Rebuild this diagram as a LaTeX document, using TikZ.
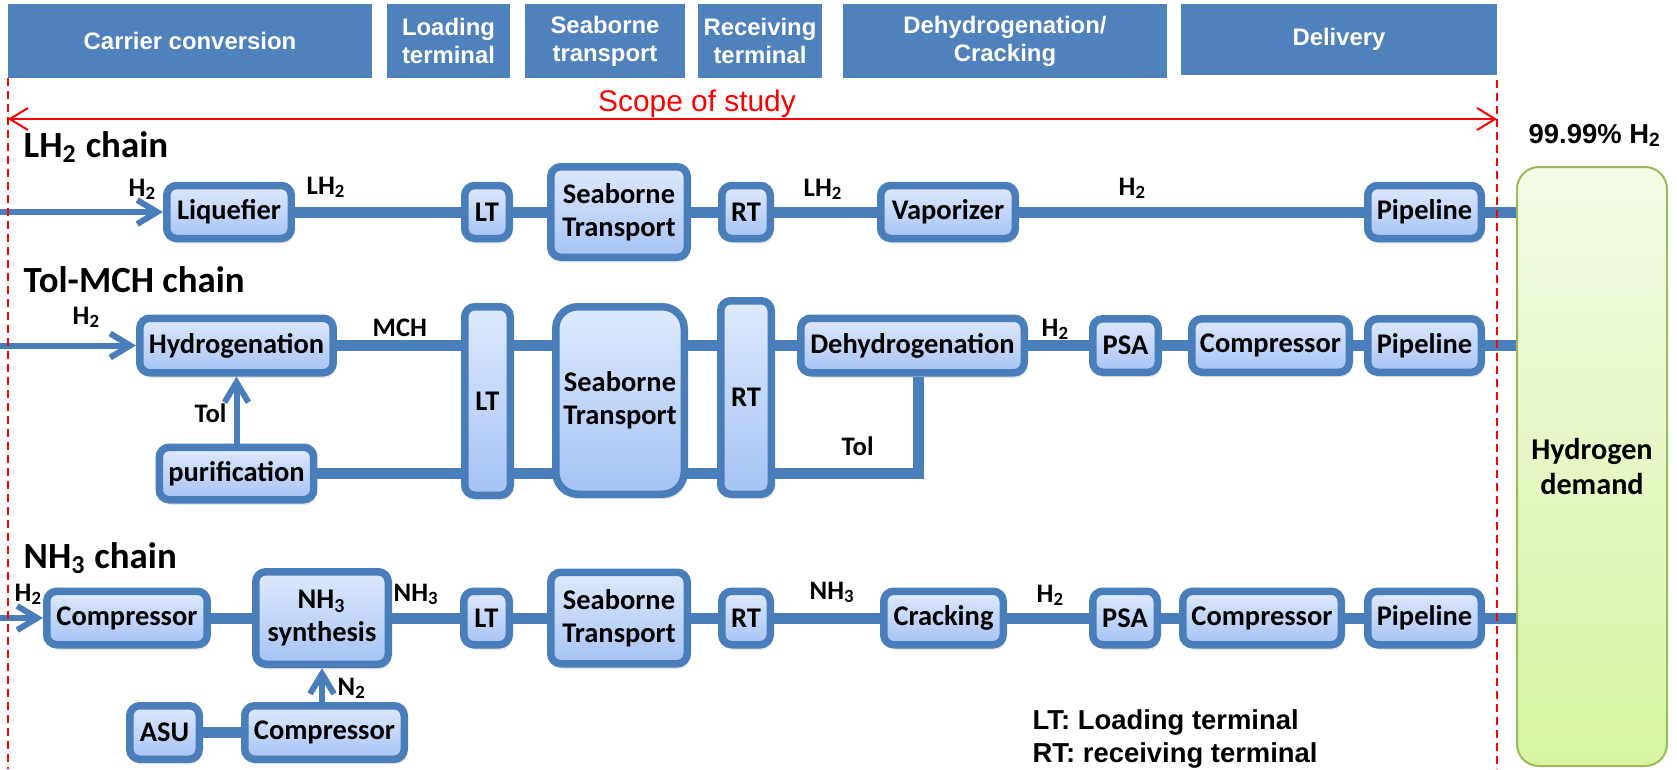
\documentclass[tikz,border=0pt]{standalone}
\usepackage{fontspec}
\newfontfamily\boxfont{Carlito}
\newfontfamily\headfont{Liberation Sans}
\usepackage{tikz}
\usetikzlibrary{arrows.meta,positioning,backgrounds,shadows}
\definecolor{hdrblue}{HTML}{4F81BD}
\definecolor{lineblue}{HTML}{4A7EBB}
\definecolor{boxtop}{HTML}{DEE9FC}
\definecolor{boxbot}{HTML}{A6C3F5}
\definecolor{greentop}{HTML}{F3FBE8}
\definecolor{greenbot}{HTML}{D7F5A0}
\definecolor{greenline}{HTML}{9BBB59}

\begin{document}
\begin{tikzpicture}[x=0.1mm,y=-0.1mm,
hdrbox/.style={rectangle,fill=hdrblue,text=white,inner sep=0pt,minimum height=7.4mm,align=center,font=\headfont\bfseries\fontsize{6.8}{8}\selectfont},
procbox/.style 2 args={rectangle,rounded corners=1mm,draw=lineblue,line width=0.75mm,top color=boxtop,bottom color=boxbot,inner sep=0pt,minimum width=#1,minimum height=#2,align=center,font=\boxfont\bfseries\fontsize{8.1}{9.4}\selectfont,drop shadow={opacity=0.2,shadow xshift=0.2mm,shadow yshift=-0.5mm}},
demandbox/.style={rectangle,rounded corners=2.2mm,draw=greenline,line width=0.2mm,top color=greentop,bottom color=greenbot,minimum width=15mm,minimum height=59.9mm,align=center,font=\boxfont\bfseries\fontsize{8.6}{9.8}\selectfont},
pipe/.style={draw=lineblue,line width=1.1mm},
feed/.style={draw=lineblue,line width=0.6mm,-{Straight Barb[length=2mm,width=2.4mm]}},
lbl/.style={anchor=base west,inner sep=0pt,font=\boxfont\bfseries\fontsize{7.6}{8}\selectfont},
chaintitle/.style={anchor=base west,inner sep=0pt,font=\boxfont\bfseries\fontsize{10.5}{12}\selectfont},
legend/.style={anchor=base west,inner sep=0pt,font=\headfont\bfseries\fontsize{7.8}{9}\selectfont},
studyline/.style={draw=red,line width=0.15mm,dash pattern=on 0.8mm off 0.5mm},
studyarrow/.style={draw=red,line width=0.2mm,{Straight Barb[length=1.8mm,width=2.2mm]}-{Straight Barb[length=1.8mm,width=2.2mm]}},
]
\useasboundingbox (0,0) rectangle (1677,769);

% stage headers
\node [hdrbox,minimum width=36.4mm] (HCC) at (190,41) {Carrier conversion};
\node [hdrbox,minimum width=12.3mm] (HLT) at (448.5,41) {Loading\\terminal};
\node [hdrbox,minimum width=16mm] (HST) at (605,41) {Seaborne\\transport};
\node [hdrbox,minimum width=12.4mm] (HRT) at (760,41) {Receiving\\terminal};
\node [hdrbox,minimum width=32.4mm] (HDC) at (1005,41) {Dehydrogenation/\\Cracking};
\node [hdrbox,minimum width=31.6mm,minimum height=7.1mm] (HDL) at (1339,39.5) {Delivery};

% scope of study
\coordinate (DashLtop) at (8,78);
\coordinate (DashLbot) at (8,769);
\coordinate (DashRtop) at (1497,80);
\coordinate (DashRbot) at (1497,769);
\coordinate (ScopeL) at (8,119);
\coordinate (ScopeR) at (1497,119);
\node [anchor=base,inner sep=0pt,text=red,font=\headfont\fontsize{8.5}{10}\selectfont] (Scope) at (697,111) {Scope of study};

% demand
\node [demandbox] (Dem) at (1592,466.5) {Hydrogen\\demand};
\node [legend,font=\headfont\bfseries\fontsize{7.8}{9}\selectfont] (Purity) at (1528,143) {99.99\% H\textsubscript{2}};

% LH2 chain
\node [chaintitle] (T1) at (23,157) {LH\textsubscript{2} chain};
\node [procbox={12.45mm}{5.3mm}] (Liq) at (229,212) {Liquefier};
\node [procbox={4.45mm}{5.3mm}] (LT1) at (487,212) {LT};
\node [procbox={13.65mm}{9.05mm}] (SB1) at (619,212) {Seaborne\\Transport};
\node [procbox={4.85mm}{5.3mm}] (RT1) at (746,212) {RT};
\node [procbox={13.45mm}{5.3mm}] (Vap) at (948,212) {Vaporizer};
\node [procbox={11.35mm}{5.3mm}] (Pipe1) at (1424.5,212) {Pipeline};
\coordinate (In1) at (0,212);

\node [lbl] (L1a) at (128,196) {H\textsubscript{2}};
\node [lbl] (L1b) at (306,194) {LH\textsubscript{2}};
\node [lbl] (L1c) at (803,196) {LH\textsubscript{2}};
\node [lbl] (L1d) at (1118,195) {H\textsubscript{2}};

% Tol-MCH chain
\node [chaintitle] (T2) at (23,292) {Tol-MCH chain};
\node [procbox={19.35mm}{5.45mm}] (Hyd) at (236.5,345.5) {Hydrogenation};
\node [procbox={15.45mm}{5.25mm}] (Pur) at (236.5,473.5) {purification};
\node [procbox={4.55mm}{18.85mm}] (LT2) at (487.5,401) {LT};
\node [procbox={12.85mm}{18.75mm},rounded corners=2.2mm] (SB2) at (620,400.5) {Seaborne\\Transport};
\node [procbox={5.05mm}{19.35mm}] (RT2) at (746,397.5) {RT};
\node [procbox={22.35mm}{5.45mm}] (Dehyd) at (912.5,345.5) {Dehydrogenation};
\node [procbox={6.55mm}{5.35mm}] (PSA2) at (1125.5,345.5) {PSA};
\node [procbox={15.75mm}{5.35mm}] (Comp2) at (1270.5,345.5) {Compressor};
\node [procbox={11.35mm}{5.35mm}] (Pipe2) at (1424.5,345.5) {Pipeline};
\coordinate (In2) at (0,345.5);

\node [lbl] (L2a) at (72,324) {H\textsubscript{2}};
\node [lbl] (L2b) at (372,336) {MCH};
\node [lbl] (L2c) at (194,422) {Tol};
\node [lbl] (L2d) at (841,455) {Tol};
\node [lbl] (L2e) at (1041,336) {H\textsubscript{2}};

% NH3 chain
\node [chaintitle] (T3) at (23,568) {NH\textsubscript{3} chain};
\node [procbox={16.05mm}{5.35mm}] (CompN1) at (127,618) {Compressor};
\node [procbox={13.25mm}{9.25mm}] (Syn) at (322,618) {NH\textsubscript{3}\\synthesis};
\node [procbox={4.55mm}{5.35mm}] (LT3) at (486.5,618) {LT};
\node [procbox={13.65mm}{9.15mm}] (SB3) at (619,618) {Seaborne\\Transport};
\node [procbox={4.85mm}{5.35mm}] (RT3) at (746,618) {RT};
\node [procbox={11.95mm}{5.35mm}] (Crack) at (943.5,618) {Cracking};
\node [procbox={6.45mm}{5.35mm}] (PSA3) at (1125,618) {PSA};
\node [procbox={15.85mm}{5.35mm}] (CompN2) at (1262,618) {Compressor};
\node [procbox={11.35mm}{5.35mm}] (Pipe3) at (1424.5,618) {Pipeline};
\node [procbox={6.95mm}{5.35mm}] (ASU) at (164.5,732.5) {ASU};
\node [procbox={15.95mm}{5.35mm}] (CompN3) at (324.5,732.5) {Compressor};
\coordinate (In3) at (0,618);

\node [lbl] (L3a) at (14,601) {H\textsubscript{2}};
\node [lbl] (L3b) at (393,601) {NH\textsubscript{3}};
\node [lbl] (L3c) at (809,599) {NH\textsubscript{3}};
\node [lbl] (L3d) at (1036,602) {H\textsubscript{2}};
\node [lbl] (L3e) at (337,695) {N\textsubscript{2}};

\node [legend] (LegLT) at (1032,729) {LT: Loading terminal};
\node [legend] (LegRT) at (1032,762) {RT: receiving terminal};

% connectors
\begin{scope}[on background layer]
\draw [pipe] (Liq) -- (Pipe1);
\draw [pipe] (Hyd.east) -- (Dehyd.west);
\draw [pipe] (Dehyd) -- (Pipe2);
\draw [pipe] (Pur.east) -| ([xshift=0.55mm]Dehyd.south);
\draw [pipe] (CompN1) -- (Pipe3);
\draw [pipe] (ASU) -- (CompN3);
\foreach \vp in {Pipe1, Pipe2, Pipe3}
{
\draw [pipe] (\vp) -- (\vp -| Dem.west);
}
\end{scope}

\foreach \vi/\vt in {In1/Liq, In2/Hyd, In3/CompN1}
{
\draw [feed] (\vi) -- (\vt);
}
\draw [feed] (Pur) -- (Hyd);
\draw [feed] (CompN3.north -| Syn) -- (Syn.south);

\draw [studyline] (DashLtop) -- (DashLbot);
\draw [studyline] (DashRtop) -- (DashRbot);
\draw [studyarrow] (ScopeL) -- (ScopeR);

\end{tikzpicture}
\end{document}
